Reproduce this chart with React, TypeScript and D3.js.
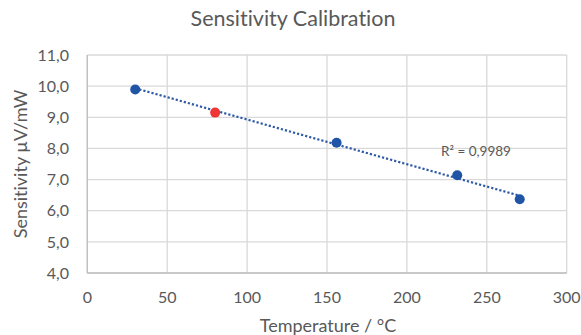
import React, { useEffect } from "react";
import * as d3 from "d3";

const seriesX = [30, 156, 231.5, 270.6];
const seriesY = [9.89, 8.18, 7.14, 6.37];
const refX = [80];
const refY = [9.15];
const xTicks = [0, 50, 100, 150, 200, 250, 300];
const yTicks = [4, 5, 6, 7, 8, 9, 10, 11];
const title = "Sensitivity Calibration";
const xTitle = "Temperature / °C";
const yTitle = "Sensitivity µV/mW";
const r2Label = "R² = 0,9989";

const W = 581;
const H = 335;
const M = { left: 87.3, right: 581 - 566.7, top: 55, bottom: 335 - 273 };
const FONT = "Lato, 'Open Sans', sans-serif";
const TXT = "#595959";

export default function App() {
  useEffect(() => {
    document.body.style.margin = "0";
  }, []);

  const x = d3.scaleLinear().domain([0, 300]).range([M.left, W - M.right]);
  const y = d3.scaleLinear().domain([4, 11]).range([H - M.bottom, M.top]);

  // least-squares linear trendline for the main series
  const mx = d3.mean(seriesX)!;
  const my = d3.mean(seriesY)!;
  const sxy = d3.sum(seriesX.map((v, i) => (v - mx) * (seriesY[i] - my)));
  const sxx = d3.sum(seriesX.map((v) => (v - mx) ** 2));
  const slope = sxy / sxx;
  const icpt = my - slope * mx;
  const x0 = d3.min(seriesX)!;
  const x1 = d3.max(seriesX)!;
  const line = d3
    .line<number>()
    .x((d) => x(d))
    .y((d) => y(icpt + slope * d));

  return (
    <svg
      width={W}
      height={H}
      style={{ display: "block", fontVariantLigatures: "none" }}
      fontFamily={FONT}
    >
      <rect x={0} y={0} width={W} height={H} fill="#fff" />
      <text x={293} y={26} textAnchor="middle" fontSize={21.5} fill={TXT}>
        {title}
      </text>
      {/* grid */}
      {xTicks.map((t) => (
        <line key={"gx" + t} x1={x(t)} x2={x(t)} y1={y(11)} y2={y(4)} stroke="#d9d9d9" strokeWidth={1.3} />
      ))}
      {yTicks.map((t) => (
        <line key={"gy" + t} x1={x(0)} x2={x(300)} y1={y(t)} y2={y(t)} stroke="#d9d9d9" strokeWidth={1.3} />
      ))}
      <line x1={x(0)} x2={x(0)} y1={y(11)} y2={y(4)} stroke="#bfbfbf" strokeWidth={1.3} />
      <line x1={x(0)} x2={x(300)} y1={y(4)} y2={y(4)} stroke="#bfbfbf" strokeWidth={1.3} />
      {/* tick labels */}
      {yTicks.map((t) => (
        <text key={"ty" + t} x={69} y={y(t)} dy="0.36em" textAnchor="end" fontSize={16} fill={TXT}>
          {d3.format(".1f")(t).replace(".", ",")}
        </text>
      ))}
      {xTicks.map((t) => (
        <text key={"tx" + t} x={x(t)} y={303} textAnchor="middle" fontSize={16} fill={TXT}>
          {t}
        </text>
      ))}
      <text x={328} y={332} textAnchor="middle" fontSize={18} fill={TXT}>
        {xTitle}
      </text>
      <text
        transform={`translate(27,${(y(4) + y(11)) / 2}) rotate(-90)`}
        textAnchor="middle"
        fontSize={18}
        fill={TXT}
      >
        {yTitle}
      </text>
      {/* trendline */}
      <path
        d={line([x0, x1])!}
        fill="none"
        stroke="#2f5aa8"
        strokeWidth={2.2}
        strokeDasharray="2.2 2"
      />
      <text x={441} y={156} fontSize={13.5} fill={TXT}>
        {r2Label}
      </text>
      {seriesX.map((v, i) => (
        <circle key={"p" + i} cx={x(v)} cy={y(seriesY[i])} r={5} fill="#1f54a6" />
      ))}
      {refX.map((v, i) => (
        <circle key={"r" + i} cx={x(v)} cy={y(refY[i])} r={5} fill="#f03535" />
      ))}
    </svg>
  );
}
